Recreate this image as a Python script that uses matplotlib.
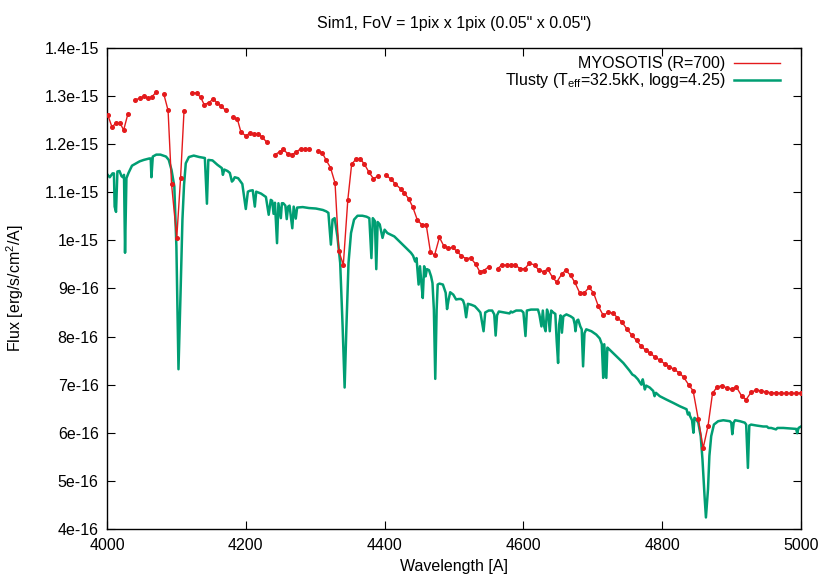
import numpy as np
import matplotlib
matplotlib.use("Agg")
import matplotlib.pyplot as plt
from matplotlib.lines import Line2D
from matplotlib.ticker import FuncFormatter

plt.rcParams['font.family'] = ['Liberation Sans', 'DejaVu Sans']
plt.rcParams['mathtext.fontset'] = 'custom'
plt.rcParams['mathtext.rm'] = 'Liberation Sans'
plt.rcParams['mathtext.it'] = 'Liberation Sans'

title = 'Sim1, FoV = 1pix x 1pix (0.05" x 0.05")'
xlabel = 'Wavelength [A]'
ylabel = 'Flux [erg/s/cm$^2$/A]'
label_myosotis = 'MYOSOTIS (R=700)'
label_tlusty = 'Tlusty (T$_{\\mathrm{eff}}$=32.5kK, logg=4.25)'

# MYOSOTIS spectrum (flux in 1e-16 erg/s/cm2/A); nan = missing sample
red_wave = [4001, 4007, 4013, 4019, 4024, 4030, 4036, 4041, 4047, 4053, 4059, 4064.5,
            4071, 4077, 4082, 4088, 4093, 4100.5, 4106, 4111, 4117, 4122.6, 4129, 4135,
            4140, 4147, 4153, 4159, 4164.5, 4171, 4176, 4182, 4188, 4193, 4200, 4206,
            4212, 4218, 4224, 4230, 4236, 4242, 4249, 4254, 4261, 4267, 4273, 4279,
            4285, 4291, 4297, 4303.5, 4310, 4316, 4322, 4328.6, 4334, 4340.5, 4347,
            4352.5, 4359, 4365, 4371, 4377.6, 4384, 4390, 4396, 4402.6, 4409, 4415.6,
            4423, 4428.6, 4434.8, 4440.6, 4447, 4453.6, 4460, 4466, 4472, 4479, 4485,
            4491.5, 4498, 4504.5, 4510.8, 4517.6, 4524, 4531, 4537, 4543, 4550, 4556,
            4563, 4569, 4576, 4582, 4588, 4595, 4602, 4608.5, 4616, 4622, 4629, 4635,
            4642, 4648, 4655, 4661, 4668, 4674, 4681, 4688, 4694.5, 4701, 4708, 4715,
            4722, 4729, 4735.5, 4742, 4749, 4756, 4763, 4769.6, 4776, 4783, 4790,
            4796.5, 4804, 4810.5, 4817, 4824, 4830.7, 4838, 4844.6, 4852, 4859, 4866,
            4872.5, 4879, 4886, 4893, 4900, 4907, 4914.6, 4921, 4928, 4935.5, 4942.6,
            4950, 4957, 4964, 4971.6, 4978.8, 4986, 4993, 5000]
red_flux = [12.61, 12.36, 12.43, 12.43, 12.29, 12.62, np.nan, 12.92, 12.95, 12.99, 12.95, 12.98,
            13.08, np.nan, 13.03, 12.70, 11.17, 10.05, 11.29, 12.69, np.nan, 13.07, 13.06, 12.97,
            12.82, 12.86, 12.94, 12.85, 12.79, 12.70, np.nan, 12.56, 12.51, 12.25, 12.17, 12.23,
            12.20, 12.21, 12.14, 12.04, np.nan, 11.78, 11.84, 11.89, 11.79, 11.78, 11.84, 11.90,
            11.90, 11.89, np.nan, 11.85, 11.82, 11.66, 11.51, 11.19, 9.78, 9.49, 10.84,
            11.58, 11.69, 11.69, 11.58, 11.41, 11.28, 11.33, np.nan, 11.35, 11.27, 11.17,
            11.07, 10.98, 10.86, 10.69, 10.43, 10.32, 10.32, 9.76, 9.69, 10.06, 9.89,
            9.84, 9.85, 9.77, 9.67, 9.62, 9.63, 9.51, 9.35, 9.37, 9.45, np.nan,
            9.41, 9.49, 9.48, 9.49, 9.49, 9.41, 9.41, 9.52, 9.49, 9.38, 9.35, 9.40,
            9.23, 9.13, 9.29, 9.38, 9.27, 9.13, 8.91, 8.91, 9.02, 8.91, 8.63, 8.44,
            8.50, 8.49, 8.39, 8.30, 8.16, 8.03, 7.92, 7.80, 7.72, 7.65, 7.57,
            7.51, 7.43, 7.37, 7.32, 7.25, 7.16, 7.00, 6.87, 6.28, 5.68, 6.14,
            6.82, 6.95, 6.98, 6.93, 6.91, 6.95, 6.76, 6.69, 6.84, 6.89, 6.87,
            6.85, 6.83, 6.83, 6.82, 6.82, 6.82, 6.82, 6.83]

# Tlusty model spectrum (flux in 1e-16 erg/s/cm2/A)
green_wave = [4001, 4004, 4008, 4010, 4011, 4013, 4015, 4018, 4021, 4023, 4024.5, 4026, 4028,
              4031, 4036, 4042, 4047, 4053, 4061, 4063, 4064, 4066, 4071, 4077, 4085, 4089,
              4093, 4097, 4100, 4103, 4106, 4108.7, 4111, 4113.5, 4118, 4125, 4133, 4141,
              4144, 4146, 4152, 4159, 4165.5, 4167, 4169, 4173.6, 4177, 4180, 4182, 4184,
              4189, 4195, 4200, 4203, 4206, 4210, 4213, 4215, 4222, 4229, 4233, 4236, 4238,
              4240, 4242, 4245, 4247, 4250.5, 4252, 4254, 4257, 4259, 4261, 4263, 4267,
              4269, 4272, 4274, 4282, 4291, 4301, 4311, 4316, 4319, 4322.6, 4325, 4328,
              4332, 4336, 4339.5, 4342.4, 4345, 4348, 4351.6, 4356, 4361, 4368, 4374, 4378,
              4381, 4383, 4386, 4388, 4390, 4393, 4397, 4400, 4404, 4414, 4424, 4431, 4438,
              4441, 4444, 4446, 4449, 4451, 4453, 4455, 4457, 4459, 4461, 4464, 4467, 4469,
              4471, 4473, 4475, 4476.5, 4479, 4484, 4488, 4490, 4492, 4494.5, 4499, 4503,
              4507, 4510, 4513, 4515, 4517.5, 4520, 4525, 4530, 4534.5, 4538, 4542.6, 4545,
              4550, 4555, 4558, 4560, 4562, 4564.6, 4572, 4580, 4582, 4584, 4589.6, 4597,
              4600, 4603, 4605, 4611, 4621, 4623, 4626, 4628, 4630, 4632, 4634, 4636, 4638,
              4640, 4643, 4646, 4648, 4650, 4651.5, 4653.5, 4655.5, 4657.5, 4662, 4668,
              4672, 4674, 4675, 4677, 4679, 4682, 4684, 4686, 4688, 4690.6, 4698, 4705,
              4710, 4713, 4715, 4716.5, 4718, 4719.5, 4721, 4724, 4734, 4744, 4753, 4757,
              4760.5, 4765, 4770, 4772, 4775, 4777, 4782, 4787, 4789, 4791, 4796.5, 4806,
              4816, 4825.5, 4835, 4837, 4839, 4840, 4843, 4845, 4846.5, 4849, 4852, 4855.5,
              4858, 4861, 4863, 4866, 4868, 4870.6, 4874.5, 4880.6, 4888, 4897.5, 4899.5,
              4901, 4903, 4905, 4912, 4919, 4921, 4923.5, 4925.5, 4928, 4936, 4945.5, 4951,
              4953, 4957, 4964, 4966, 4974.5, 4984, 4993, 4994.5, 4996.5, 5000]
green_flux = [11.36, 11.31, 11.39, 11.39, 10.70, 10.59, 11.43, 11.44, 11.33, 11.31, 11.36, 9.74, 11.29,
              11.40, 11.55, 11.60, 11.64, 11.67, 11.70, 11.70, 11.31, 11.74, 11.78, 11.78, 11.74, 11.67,
              11.46, 11.12, 9.87, 7.32, 8.91, 10.43, 11.15, 11.60, 11.73, 11.76, 11.73, 11.71,
              10.76, 11.67, 11.66, 11.57, 11.50, 11.36, 11.47, 11.44, 11.40, 11.22, 11.25, 11.31,
              11.29, 11.17, 10.65, 11.01, 11.03, 11.04, 10.70, 11.01, 10.97, 10.90, 10.53, 10.84, 10.82,
              10.55, 10.78, 9.94, 10.77, 10.46, 10.77, 10.77, 10.72, 10.44, 10.70, 10.72, 10.25,
              10.70, 10.45, 10.68, 10.69, 10.67, 10.66, 10.63, 10.60, 10.57, 9.91, 10.43, 10.46,
              10.08, 9.53, 8.21, 6.94, 8.21, 9.53, 10.15, 10.43, 10.51, 10.51, 10.49, 10.46,
              9.63, 10.46, 10.40, 9.40, 10.38, 10.33, 10.05, 10.22, 10.15, 10.08, 9.94, 9.84, 9.74,
              9.68, 9.56, 9.63, 9.08, 9.46, 9.11, 8.80, 9.46, 9.25, 9.40, 9.38, 9.25, 9.11,
              8.56, 7.12, 8.56, 9.08, 9.10, 9.08, 8.91, 8.57, 8.75, 8.92, 8.87, 8.77,
              8.78, 8.78, 8.75, 8.66, 8.40, 8.68, 8.66, 8.63, 8.56, 8.50, 8.11, 8.50,
              8.54, 8.54, 8.46, 8.02, 8.44, 8.52, 8.50, 8.48, 8.52, 8.50, 8.54, 8.54,
              8.50, 8.01, 8.54, 8.56, 8.56, 8.46, 8.21, 8.54, 8.21, 8.11, 8.56, 8.46, 8.11,
              8.54, 8.50, 8.47, 7.90, 7.45, 8.25, 8.44, 8.08, 8.42, 8.46, 8.42,
              8.38, 8.25, 8.11, 8.33, 8.35, 8.21, 8.15, 7.38, 8.07, 8.15, 8.11, 8.04,
              7.96, 7.84, 7.14, 7.84, 7.50, 7.14, 7.77, 7.73, 7.59, 7.45, 7.29, 7.21,
              7.18, 7.11, 7.00, 7.11, 6.90, 6.98, 6.94, 6.87, 6.76, 6.83, 6.76, 6.69,
              6.62, 6.55, 6.49, 6.38, 6.42, 6.35, 6.26, 6.00, 6.31, 6.28, 6.21, 5.93,
              5.45, 4.69, 4.24, 4.83, 5.52, 5.93, 6.17, 6.24, 6.26, 6.24, 6.21,
              5.97, 6.21, 6.26, 6.24, 6.21, 6.17, 5.27, 6.15, 6.17, 6.15, 6.13, 6.13,
              6.10, 6.10, 6.07, 6.10, 6.10, 6.09, 6.08, 5.99, 6.10, 6.13]

flux_unit = 1e-16
xticks = [4000, 4200, 4400, 4600, 4800, 5000]
yticks = [4e-16, 5e-16, 6e-16, 7e-16, 8e-16, 9e-16, 1e-15, 1.1e-15, 1.2e-15, 1.3e-15, 1.4e-15]

red_color = '#e41a1c'
green_color = '#009e73'
fs = 11.5

fig = plt.figure(figsize=(8.3, 5.81), dpi=100)
ax = fig.add_axes([107 / 830, 1 - 529 / 581, (801 - 107) / 830, (529 - 47.8) / 581])

ax.plot(green_wave, np.array(green_flux) * flux_unit, color=green_color, lw=1.8, zorder=2)
ax.plot(red_wave, np.array(red_flux) * flux_unit, color=red_color, lw=1.0,
        marker='o', ms=2.6, mec=red_color, mfc=red_color, zorder=3)

ax.set_xlim(4000, 5000)
ax.set_ylim(4e-16, 1.4e-15)
ax.set_xticks(xticks)
ax.set_yticks(yticks)
ax.yaxis.set_major_formatter(FuncFormatter(lambda v, p: '%g' % float('%.3g' % v)))
ax.tick_params(axis='both', direction='in', length=6, width=0.8, top=True, right=True,
               labelsize=fs, colors='black')
ax.tick_params(axis='x', pad=6.5)
ax.tick_params(axis='y', pad=6)
for s in ax.spines.values():
    s.set_linewidth(1.0)

ax.set_title(title, fontsize=fs, pad=14)
ax.set_xlabel(xlabel, fontsize=fs, labelpad=4)
ax.set_ylabel(ylabel, fontsize=fs, labelpad=13)

handles = [Line2D([], [], color=red_color, lw=1.0),
           Line2D([], [], color=green_color, lw=1.8)]
ax.legend(handles, [label_myosotis, label_tlusty], loc='upper right', frameon=False,
          markerfirst=False, fontsize=fs, handlelength=2.9, handletextpad=0.55,
          labelspacing=0.0, borderaxespad=0.5, bbox_to_anchor=(0.991, 1.012))

fig.savefig('out.png', dpi=100)
